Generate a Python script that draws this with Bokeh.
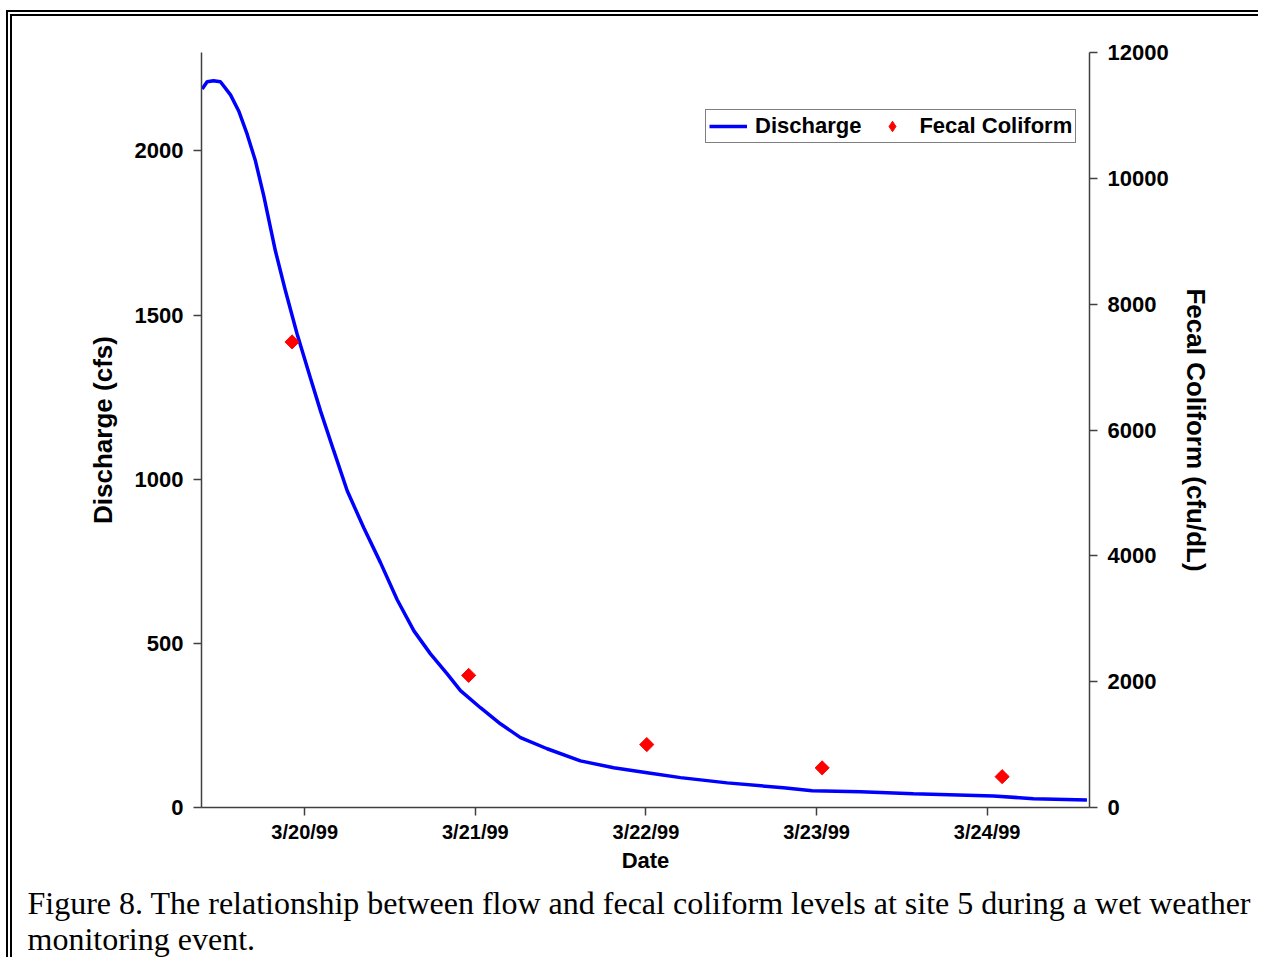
import numpy as np
from bokeh.plotting import figure
from bokeh.models import (Range1d, LinearAxis, FixedTicker, Legend, LegendItem, Title)
from bokeh.embed import file_html
from bokeh.resources import INLINE

# ---- data (days since 3/19/99 00:00) ----
discharge_days = [0.399, 0.428, 0.465, 0.506, 0.565, 0.613, 0.662, 0.711, 0.760,
                  0.828, 0.887, 0.955, 1.033, 1.092, 1.170, 1.249, 1.346, 1.444,
                  1.542, 1.640, 1.737, 1.835, 1.913, 2.030, 2.147, 2.265, 2.421,
                  2.616, 2.811, 3.007, 3.203, 3.476, 3.806, 3.974, 4.257, 4.568,
                  5.037, 5.271, 5.585]
discharge_cfs = [2189, 2211, 2214, 2211, 2171, 2122, 2052, 1970, 1863,
                 1696, 1574, 1443, 1309, 1209, 1087, 965, 852, 746,
                 633, 538, 468, 407, 356, 304, 255, 213, 179,
                 142, 121, 106, 91, 75, 60, 51, 48, 42,
                 35, 27, 23]
coliform_days = [0.926, 1.961, 3.005, 4.033, 5.088]
coliform_cfu = [7400, 2100, 1000, 630, 490]

date_ticks = [1, 2, 3, 4, 5]
date_labels = ["3/20/99", "3/21/99", "3/22/99", "3/23/99", "3/24/99"]
left_ticks = [0, 500, 1000, 1500, 2000]
right_ticks = [0, 2000, 4000, 6000, 8000, 10000, 12000]

caption = ("Figure 8. The relationship between flow and fecal coliform levels "
           "at site 5 during a wet weather\nmonitoring event.")

# canvas sits at page (12, 16) because of the CSS double border
W, H = 1252, 947
p = figure(width=W, height=H, output_backend="svg", toolbar_location=None,
           x_range=Range1d(0.395, 5.6), y_range=Range1d(0, 2300),
           min_border_left=189, min_border_right=175,
           min_border_top=36, min_border_bottom=156)
p.styles = {"margin-left": "6px", "margin-top": "10px",
            "border-left": "6px double black", "border-top": "6px double black"}
p.extra_y_ranges = {"fc": Range1d(0, 12000)}
p.grid.visible = False
p.outline_line_color = None
p.background_fill_color = "white"
p.border_fill_color = "white"

right_axis = LinearAxis(y_range_name="fc")
p.add_layout(right_axis, "right")

SANS = "Liberation Sans"
AX_COLOR = "#404040"

def style_axis(ax, ticks, label, tick_size, label_size, tick_standoff, label_standoff):
    ax.ticker = FixedTicker(ticks=ticks)
    ax.minor_tick_line_color = None
    ax.major_tick_out = 8
    ax.major_tick_in = 0
    ax.axis_line_color = AX_COLOR
    ax.axis_line_width = 1.5
    ax.major_tick_line_color = AX_COLOR
    ax.major_tick_line_width = 1.5
    ax.major_label_text_font = SANS
    ax.major_label_text_font_style = "bold"
    ax.major_label_text_font_size = tick_size
    ax.major_label_text_color = "black"
    ax.major_label_standoff = tick_standoff
    ax.axis_label = label
    ax.axis_label_text_font = SANS
    ax.axis_label_text_font_style = "bold"
    ax.axis_label_text_font_size = label_size
    ax.axis_label_text_color = "black"
    ax.axis_label_standoff = label_standoff

style_axis(p.xaxis[0], date_ticks, "Date", "20px", "22px", 5, 2)
p.xaxis[0].major_label_overrides = {t: l for t, l in zip(date_ticks, date_labels)}
style_axis(p.yaxis[0], left_ticks, "Discharge (cfs)", "22px", "26px", 10, 14)
style_axis(right_axis, right_ticks, "Fecal Coliform (cfu/dL)", "22px", "26px", 10, 9)

r_line = p.line(discharge_days, discharge_cfs, line_color="#0000FF", line_width=3.5)
p.scatter(coliform_days, coliform_cfu, y_range_name="fc", marker="square",
          angle=np.pi / 4, size=10, fill_color="#FF0000", line_color="#FF0000")
# legend swatch for the coliform points (a diamond, as in the original key)
r_key = p.scatter([np.nan], [np.nan], y_range_name="fc", marker="diamond",
                  fill_color="#FF0000", line_color="#FF0000")

legend = Legend(items=[LegendItem(label="Discharge", renderers=[r_line]),
                       LegendItem(label="Fecal Coliform", renderers=[r_key])],
                orientation="horizontal", location=(504, 664),
                label_text_font=SANS, label_text_font_style="bold",
                label_text_font_size="22px", label_text_color="black",
                glyph_width=38, glyph_height=26, label_standoff=8, spacing=12,
                padding=3, margin=0, border_line_color="black", border_line_width=1,
                background_fill_color="white", background_fill_alpha=1)
p.add_layout(legend)

p.add_layout(Title(text=caption, align="left", offset=-174, standoff=14,
                   text_font="Liberation Serif", text_font_size="32px",
                   text_font_style="normal", text_color="black",
                   text_line_height=1.0), "below")

open("out.html", "w").write(file_html(p, INLINE))
